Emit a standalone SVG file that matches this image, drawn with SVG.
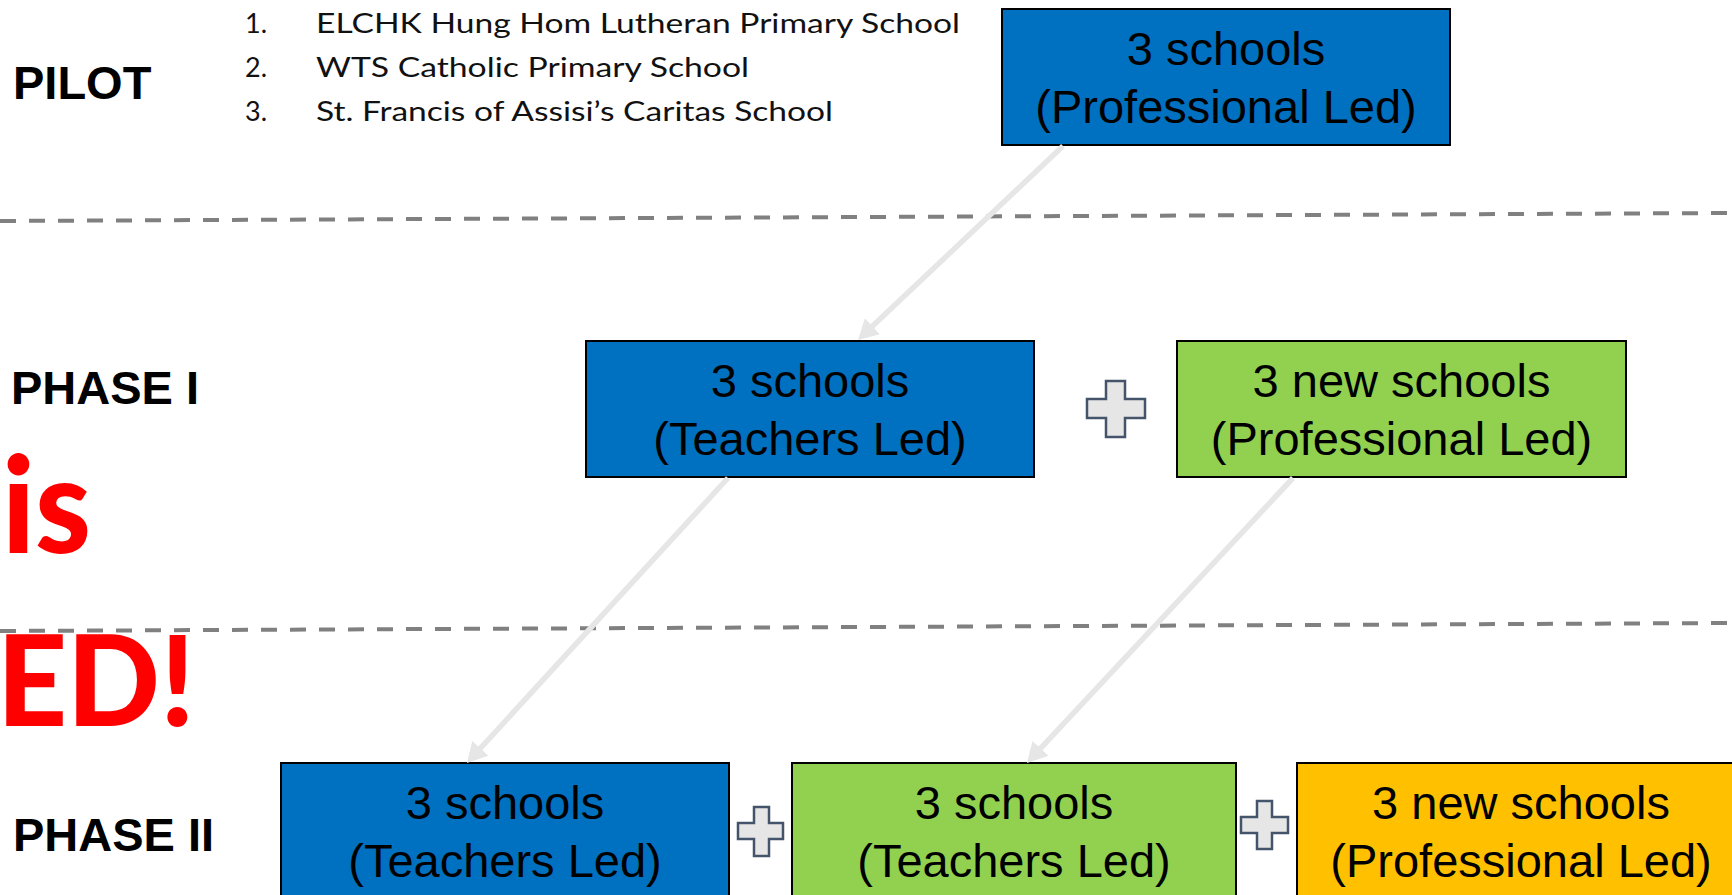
<svg xmlns="http://www.w3.org/2000/svg" width="1732" height="895" viewBox="0 0 1732 895">
  <style>
    .label { font-family: "Liberation Sans", Arial, sans-serif; font-weight: bold; font-size: 47px; fill: #000; }
    .list { font-family: Lato, "Open Sans", sans-serif; font-size: 27px; fill: #111; }
    .red { font-family: Lato, "Open Sans", sans-serif; font-weight: 900; fill: #ff0000; }
    .box { stroke: #000; stroke-width: 2; }
    .blue { fill: #0070c0; }
    .green { fill: #92d050; }
    .orange { fill: #ffc000; }
    .btext { font-family: "Liberation Sans", Arial, sans-serif; font-size: 47px; fill: #000; text-anchor: middle; }
    .plus { fill: #e7e6e6; stroke: #44546a; stroke-width: 2.5; }
    .divider { stroke: #808080; stroke-width: 4; stroke-dasharray: 16 13; fill: none; }
    .conn { stroke: #e6e6e6; stroke-width: 5.5; fill: none; marker-end: url(#arrow); }
  </style>
  <defs>
    <marker id="arrow" markerUnits="userSpaceOnUse" markerWidth="20" markerHeight="22" viewBox="0 0 20 22" refX="10" refY="11" orient="auto">
      <path d="M0,0 L20,11 L0,22 z" fill="#e6e6e6"/>
    </marker>
  </defs>
  <rect width="1732" height="895" fill="#ffffff"/>

  <g id="dividers">
    <line class="divider" x1="0" y1="221" x2="1732" y2="213"/>
    <line class="divider" x1="0" y1="631" x2="1732" y2="623"/>
  </g>

  <g id="labels">
    <text class="label" x="13" y="99">PILOT</text>
    <text class="label" x="11" y="404">PHASE I</text>
    <text class="label" x="13" y="851">PHASE II</text>
    <text class="red" x="2" y="553" font-size="134" textLength="89" lengthAdjust="spacingAndGlyphs">is</text>
    <text class="red" x="-3" y="726" font-size="126" textLength="198" lengthAdjust="spacingAndGlyphs">ED!</text>
  </g>

  <g id="pilot-list">
    <text class="list" x="245" y="33">1.</text>
    <text class="list" x="316" y="33" textLength="644" lengthAdjust="spacingAndGlyphs">ELCHK Hung Hom Lutheran Primary School</text>
    <text class="list" x="245" y="77">2.</text>
    <text class="list" x="316" y="77" textLength="433" lengthAdjust="spacingAndGlyphs">WTS Catholic Primary School</text>
    <text class="list" x="245" y="121">3.</text>
    <text class="list" x="316" y="121" textLength="517" lengthAdjust="spacingAndGlyphs">St. Francis of Assisi’s Caritas School</text>
  </g>

  <g id="pilot-box">
    <rect class="box blue" x="1002" y="9" width="448" height="136"/>
    <text class="btext" x="1226" y="65">3 schools</text>
    <text class="btext" x="1226" y="123">(Professional Led)</text>
  </g>

  <g id="phase1-teachers">
    <rect class="box blue" x="586" y="341" width="448" height="136"/>
    <text class="btext" x="810" y="397">3 schools</text>
    <text class="btext" x="810" y="455">(Teachers Led)</text>
  </g>

  <g id="phase1-plus">
    <path class="plus" d="M1106,381 H1125 V399 H1145 V418 H1125 V437 H1106 V418 H1087 V399 H1106 Z"/>
  </g>

  <g id="phase1-new">
    <rect class="box green" x="1177" y="341" width="449" height="136"/>
    <text class="btext" x="1401.5" y="397">3 new schools</text>
    <text class="btext" x="1401.5" y="455">(Professional Led)</text>
  </g>

  <g id="phase2-teachers-a">
    <rect class="box blue" x="281" y="763" width="448" height="140"/>
    <text class="btext" x="505" y="819">3 schools</text>
    <text class="btext" x="505" y="877">(Teachers Led)</text>
  </g>

  <g id="phase2-plus-a">
    <path class="plus" d="M754,807 H769 V823 H783 V839 H769 V856 H754 V839 H738 V823 H754 Z"/>
  </g>

  <g id="phase2-teachers-b">
    <rect class="box green" x="792" y="763" width="444" height="140"/>
    <text class="btext" x="1014" y="819">3 schools</text>
    <text class="btext" x="1014" y="877">(Teachers Led)</text>
  </g>

  <g id="phase2-plus-b">
    <path class="plus" d="M1257,801 H1272 V817 H1288 V833 H1272 V849 H1257 V833 H1241 V817 H1257 Z"/>
  </g>

  <g id="phase2-new">
    <rect class="box orange" x="1297" y="763" width="448" height="140"/>
    <text class="btext" x="1521" y="819">3 new schools</text>
    <text class="btext" x="1521" y="877">(Professional Led)</text>
  </g>

  <g id="connectors">
    <line class="conn" x1="1063" y1="146" x2="865.2" y2="333.1"/>
    <line class="conn" x1="728" y1="478" x2="473.7" y2="755.6"/>
    <line class="conn" x1="1293" y1="478" x2="1033.8" y2="755.7"/>
  </g>
</svg>
